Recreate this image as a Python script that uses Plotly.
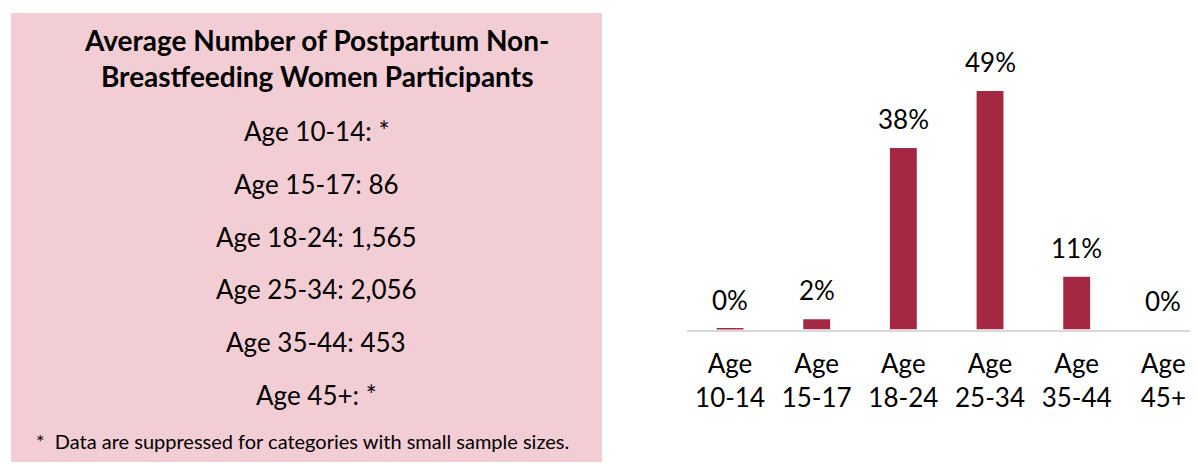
import plotly.graph_objects as go

categories = ["Age<br>10-14", "Age<br>15-17", "Age<br>18-24", "Age<br>25-34", "Age<br>35-44", "Age<br>45+"]
percent_values = [0.15, 2.1, 37.6, 49.4, 10.9, 0.0]
percent_labels = ["0%", "2%", "38%", "49%", "11%", "0%"]

panel_title_lines = ["Average Number of Postpartum Non-", "Breastfeeding Women Participants"]
panel_items = ["Age 10-14: *", "Age 15-17: 86", "Age 18-24: 1,565",
               "Age 25-34: 2,056", "Age 35-44: 453", "Age 45+: *"]
panel_note = "*  Data are suppressed for categories with small sample sizes."

OFF = 8  # page body margin
W, H = 1198 - OFF, 464 - OFF
FONT = "Lato"
BAR = "#A52842"
PINK = "#F2CDD4"

def px(x):
    return (x - OFF) / W

def py(y):
    return 1 - (y - OFF) / H

fig = go.Figure()
fig.add_trace(go.Bar(
    x=list(range(len(categories))), y=percent_values,
    marker=dict(color=BAR, line=dict(width=0)),
    cliponaxis=False, hoverinfo="skip",
))

for i, (v, lab) in enumerate(zip(percent_values, percent_labels)):
    fig.add_annotation(x=i, y=v, xref="x", yref="y", text=lab, showarrow=False,
                       yanchor="bottom", xanchor="center", yshift=11,
                       font=dict(family=FONT, size=26, color="#000000"))

plot_left, plot_right = 686.7, 1198
plot_top, plot_bottom = 20, 329.5

fig.update_layout(
    width=W, height=H,
    margin=dict(l=0, r=0, t=0, b=0),
    paper_bgcolor="white", plot_bgcolor="white",
    showlegend=False, bargap=0.69,
    xaxis=dict(domain=[px(plot_left), 1.0], range=[-0.5, 5.4],
               tickmode="array", tickvals=list(range(len(categories))), ticktext=categories,
               tickfont=dict(family=FONT, size=26, color="#000000"),
               showline=True, linecolor="#D9D9D9", linewidth=2,
               ticks="outside", ticklen=10, tickcolor="rgba(0,0,0,0)",
               showgrid=False, zeroline=False, fixedrange=True),
    yaxis=dict(domain=[py(plot_bottom), py(plot_top)], range=[0, 64.1],
               visible=False, showgrid=False, zeroline=False, fixedrange=True),
)

# left info panel
fig.add_shape(type="rect", xref="paper", yref="paper",
              x0=px(11), x1=px(602), y0=py(462), y1=py(13),
              fillcolor=PINK, line=dict(width=0), layer="below")

fig.add_annotation(xref="paper", yref="paper", x=px(316), y=py(58),
                   text="<b>" + "<br>".join(panel_title_lines) + "</b>", showarrow=False,
                   font=dict(family=FONT, size=28, color="#000000"),
                   xanchor="center", yanchor="middle", align="center")

item_y = [131, 184, 237, 289, 342, 395]
for t, yy in zip(panel_items, item_y):
    fig.add_annotation(xref="paper", yref="paper", x=px(316), y=py(yy),
                       text=t, showarrow=False,
                       font=dict(family=FONT, size=26, color="#000000"),
                       xanchor="center", yanchor="middle")

fig.add_annotation(xref="paper", yref="paper", x=px(34), y=py(441),
                   text=panel_note, showarrow=False,
                   font=dict(family=FONT, size=20, color="#000000"),
                   xanchor="left", yanchor="middle")

fig.write_html("out.html")
